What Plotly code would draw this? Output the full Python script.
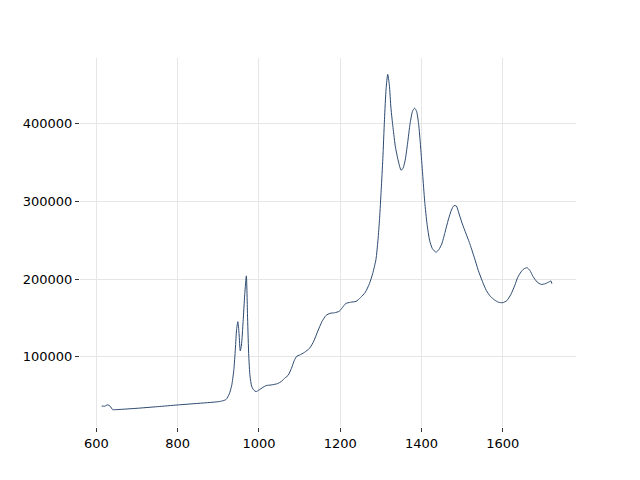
import plotly.graph_objects as go

wavenumber = [613, 620, 628, 634, 640, 650, 675, 700, 750, 800, 850, 880, 900, 910, 919,
               927, 933, 938, 942, 945, 948, 951, 954, 957, 961, 965, 969, 972, 975, 978,
               982, 987, 993, 1000, 1010, 1018, 1030, 1046, 1055, 1065, 1072, 1080, 1087,
               1093, 1100, 1112, 1125, 1135, 1145, 1155, 1165, 1175, 1186, 1198, 1205,
               1214, 1225, 1239, 1250, 1262, 1272, 1280, 1288, 1293, 1297, 1301, 1305,
               1309, 1313, 1317, 1321, 1325, 1330, 1336, 1343, 1350, 1355, 1360, 1366,
               1372, 1378, 1383, 1388, 1393, 1398, 1403, 1408, 1414, 1420, 1427, 1436,
               1443, 1450, 1458, 1466, 1474, 1480, 1486, 1492, 1500, 1510, 1518, 1530,
               1540, 1550, 1560, 1570, 1580, 1590, 1600, 1610, 1620, 1630, 1637, 1645,
               1652, 1660, 1667, 1675, 1685, 1695, 1705, 1715, 1719, 1721]
intensity = [36500, 36200, 38000, 36000, 31800, 31800, 32600, 33500, 35600, 37800, 39800,
             41000, 42000, 43000, 44800, 52000, 63000, 82000, 110000, 135000, 145000,
             130000, 107500, 115000, 145000, 180000, 204000, 150000, 100000, 75000, 62000,
             57000, 55000, 57000, 60500, 62800, 63500, 65300, 68000, 73000, 76000, 85000,
             95000, 100500, 102000, 105500, 111000, 120000, 133000, 145000, 153000, 155800,
             156500, 158500, 163000, 168500, 170000, 171200, 176000, 183000, 194000, 207000,
             225000, 250000, 278000, 315000, 355000, 405000, 445000, 463500, 450000, 420000,
             395000, 370000, 352000, 340000, 343000, 353000, 375000, 400000, 416000, 420000,
             416000, 400000, 370000, 335000, 300000, 270000, 250000, 239000, 234500, 238000,
             245000, 260000, 276000, 289000, 294500, 294000, 285000, 272000, 258000, 247000,
             228000, 211000, 197000, 185000, 177500, 173000, 170000, 169500, 172000, 180000,
             192000, 202000, 209000, 213000, 214500, 211000, 203000, 196000, 193000, 194000,
             196500, 197500, 194000]

x_ticks = [600, 800, 1000, 1200, 1400, 1600]
y_ticks = [100000, 200000, 300000, 400000]

fig = go.Figure()
fig.add_trace(go.Scatter(x=wavenumber, y=intensity, mode="lines",
                         line=dict(color="#2c4a70", width=1, shape="spline", smoothing=0.6),
                         showlegend=False, hoverinfo="x+y"))

axis_common = dict(showline=False, zeroline=False, showgrid=True, gridcolor="#e6e6e6",
                   gridwidth=1.2, ticks="outside", ticklen=4, tickwidth=1,
                   tickcolor="#333333", tickfont=dict(family="DejaVu Sans", size=13, color="#000000"))

fig.update_layout(
    width=632, height=472,
    margin=dict(l=72, r=64, t=50, b=53),
    paper_bgcolor="white", plot_bgcolor="white",
    xaxis=dict(range=[559.5, 1780.5], tickvals=x_ticks, ticktext=[str(v) for v in x_ticks],
               **axis_common),
    yaxis=dict(range=[9400, 484600], tickvals=y_ticks, ticktext=[str(v) for v in y_ticks],
               **axis_common),
)

fig.write_html("out.html")
